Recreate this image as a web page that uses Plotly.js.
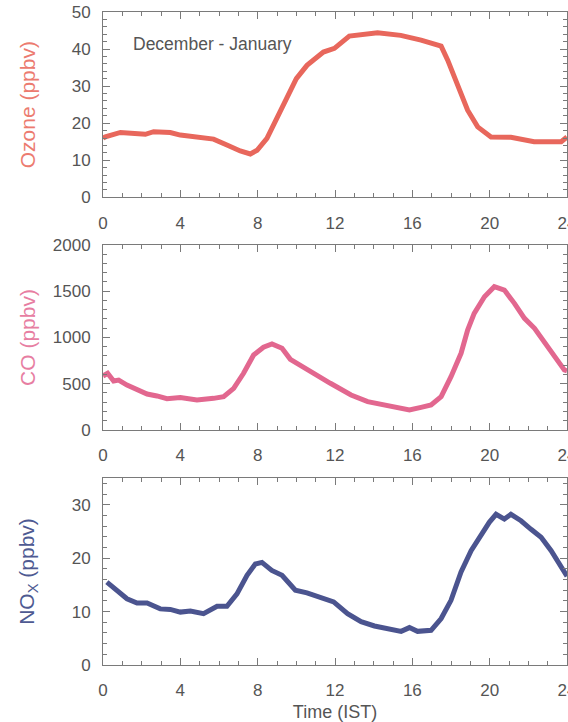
<!DOCTYPE html>
<html><head><meta charset="utf-8">
<script src="https://cdn.plot.ly/plotly-3.0.1.min.js"></script>
<style>html,body{margin:0;padding:0;background:#fff}#c{width:568px;height:722px}</style>
</head><body><div id="c"></div><script>
// Hours (IST) and values
const ozoneHours = [0,0.12,0.9,1.58,2.19,2.62,3.48,4.0,4.86,5.72,6.41,7.1,7.62,7.97,8.48,9.0,9.43,10.0,10.55,11.4,11.97,12.74,14.2,15.4,16.45,17.14,17.49,17.83,18.35,18.86,19.38,20.07,21.1,22.3,23.7,24];
const ozoneValues = [16.0,16.3,17.5,17.4,17.0,17.7,17.5,16.8,16.3,15.7,14.1,12.5,11.7,12.7,15.9,21.3,26.2,32.0,35.6,39.2,40.2,43.5,44.4,43.7,42.4,41.2,40.8,37.0,29.8,23.5,19.0,16.3,16.2,15.0,15.0,16.3];

const coHours = [0,0.24,0.55,0.81,1.24,1.76,2.28,2.79,3.31,4.0,4.86,5.72,6.24,6.76,7.27,7.79,8.3,8.74,9.26,9.69,10.21,10.9,11.76,12.83,13.69,14.55,15.24,15.85,16.45,16.97,17.49,18.0,18.52,18.86,19.2,19.73,20.24,20.76,21.28,21.8,22.32,22.83,23.35,23.86,24];
const coValues = [584,613,530,540,486,432,389,368,339,350,324,342,360,450,613,811,894,930,883,764,703,613,505,378,306,270,245,216,245,270,360,576,829,1081,1261,1441,1549,1513,1369,1207,1099,955,811,649,640];

const noxHours = [0.2,0.72,1.24,1.76,2.28,2.96,3.48,4.0,4.52,5.2,5.9,6.41,6.93,7.45,7.88,8.22,8.73,9.26,9.95,10.55,11.24,11.93,12.65,13.35,14.04,14.72,15.42,15.85,16.27,16.97,17.49,18.0,18.52,19.04,19.56,19.98,20.33,20.76,21.1,21.62,22.14,22.66,23.18,23.86,24];
const noxValues = [15.5,14.0,12.4,11.6,11.6,10.5,10.4,9.9,10.1,9.6,11.0,11.0,13.3,16.8,18.9,19.2,17.7,16.8,14.0,13.5,12.7,11.8,9.6,8.1,7.3,6.8,6.3,7.0,6.3,6.5,8.7,12.1,17.4,21.4,24.5,26.7,28.2,27.3,28.2,27.0,25.4,23.9,21.4,17.1,16.6];

const panelLabel = "December - January";

const fam = "Liberation Sans, Arial, sans-serif";
const tickFont = {family:fam, size:17, color:"#555"};
const frame = "#7a7a7a";

function xAxis(anchor, extra){
  return Object.assign({
    anchor: anchor, range:[0,24], tickmode:"linear", tick0:0, dtick:4,
    ticks:"inside", ticklen:7, tickcolor:frame, showline:true, linecolor:frame, linewidth:1,
    mirror:"ticks", showgrid:false, zeroline:false, tickfont:tickFont, ticklabelstandoff:10,
    ticklabeloverflow:"allow",
    minor:{dtick:1, ticks:"inside", ticklen:4, tickcolor:frame, showgrid:false}
  }, extra||{});
}
function yAxis(anchor, domain, range, dtick, minor, title, color, standoff){
  return {
    anchor: anchor, domain: domain, range: range, tickmode:"linear", tick0:0, dtick: dtick,
    ticks:"inside", ticklen:7, tickcolor:frame, showline:true, linecolor:frame, linewidth:1,
    mirror:"ticks", showgrid:false, zeroline:false, tickfont:tickFont, ticklabelstandoff:8,
    ticklabeloverflow:"allow",
    minor:{dtick:minor, ticks:"inside", ticklen:4, tickcolor:frame, showgrid:false},
    title:{text:title, font:{family:fam, size:21, color:color}, standoff:standoff}
  };
}

const traces = [
  {x:ozoneHours, y:ozoneValues, xaxis:"x", yaxis:"y", mode:"lines", line:{color:"#e8675c", width:5}},
  {x:coHours, y:coValues, xaxis:"x2", yaxis:"y2", mode:"lines", line:{color:"#e2678f", width:5}},
  {x:noxHours, y:noxValues, xaxis:"x3", yaxis:"y3", mode:"lines", line:{color:"#4b548f", width:5}}
];

const layout = {
  width:568, height:722, showlegend:false,
  paper_bgcolor:"#fff", plot_bgcolor:"#fff",
  margin:{l:103, r:1, t:12, b:57},
  xaxis: xAxis("y"),
  xaxis2: xAxis("y2"),
  xaxis3: xAxis("y3", {title:{text:"Time (IST)", font:{family:fam, size:18, color:"#555"}, standoff:22}}),
  yaxis: yAxis("x", [0.7162,1], [0,50], 10, 2, "Ozone (ppbv)", "#ec7b70", 30),
  yaxis2: yAxis("x2", [0.3599,0.6432], [0,2000], 500, 100, "CO (ppbv)", "#e77ea2", 11),
  yaxis3: yAxis("x3", [0,0.2864], [0,35], 10, 2, "NO<sub>X</sub> (ppbv)", "#4e5a92", 31),
  annotations:[{xref:"x", yref:"y", x:5.65, y:41.3, text:panelLabel, showarrow:false,
    font:{family:fam, size:17.5, color:"#555"}}]
};

Plotly.newPlot("c", traces, layout, {displayModeBar:false, staticPlot:true});
</script></body></html>
